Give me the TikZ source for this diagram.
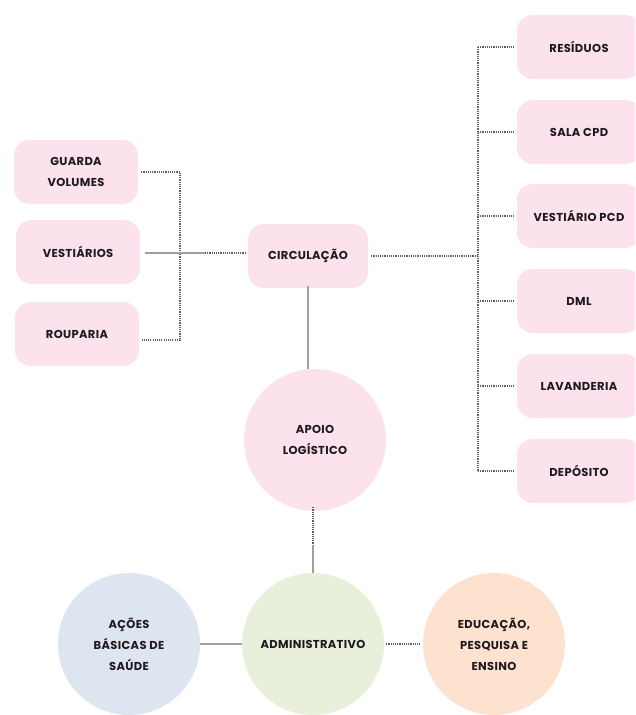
\documentclass[tikz,border=0pt]{standalone}
\usepackage{fontspec}
\setmainfont{Poppins}[LetterSpace=3]
\definecolor{pinkbox}{RGB}{251,226,237}
\definecolor{bluec}{RGB}{221,229,241}
\definecolor{greenc}{RGB}{232,240,220}
\definecolor{orangec}{RGB}{253,227,207}
\definecolor{linec}{RGB}{120,120,120}
\definecolor{txtc}{RGB}{30,25,30}
\tikzset{
  pbox/.style={rectangle, rounded corners=16pt, fill=pinkbox, minimum width=124pt, minimum height=64pt, align=center, font=\bfseries\fontsize{11.5}{21}\selectfont, text=txtc, inner sep=0pt},
  bubble/.style={circle, minimum size=142pt, align=center, font=\bfseries\fontsize{11.5}{21}\selectfont, text=txtc, inner sep=0pt},
  dotl/.style={draw=linec!80!black, line width=1.1pt, dash pattern=on 1.1pt off 1.1pt},
  solidl/.style={draw=linec!70, line width=1.2pt}
}
\begin{document}
\begin{tikzpicture}[x=1pt,y=-1pt]
\useasboundingbox (0,0) rectangle (635,715);
\clip (0,0) rectangle (635,715);
\fill[white] (0,0) rectangle (635,715);
% left boxes
\node[pbox] (gv) at (76,172) {GUARDA\\VOLUMES};
\node[pbox] (ves) at (78,252) {VESTIÁRIOS};
\node[pbox] (rou) at (77,334) {ROUPARIA};
% center
\node[pbox, minimum width=120pt] (circ) at (308,256) {CIRCULAÇÃO};
% right boxes
\node[pbox] (res) at (579,47) {RESÍDUOS};
\node[pbox] (cpd) at (579,132) {SALA CPD};
\node[pbox] (pcd) at (579,216) {VESTIÁRIO PCD};
\node[pbox] (dml) at (579,301) {DML};
\node[pbox] (lav) at (579,386) {LAVANDERIA};
\node[pbox] (dep) at (579,471) {DEPÓSITO};
% circles
\node[bubble, fill=pinkbox] (apoio) at (315,440) {APOIO\\LOGÍSTICO};
\node[bubble, fill=greenc] (adm) at (313,644) {ADMINISTRATIVO};
\node[bubble, fill=bluec] (acoes) at (129,644) {AÇÕES\\BÁSICAS DE\\SAÚDE};
\node[bubble, fill=orangec] (edu) at (494,644) {EDUCAÇÃO,\\PESQUISA E\\ENSINO};
% left connectors
\coordinate (lj) at (180,172);
\coordinate (lb) at (180,340);
\coordinate (vm) at (205,253);
\draw[dotl] ([xshift=3pt]gv.east) -- (lj) -- (lb) -- ([xshift=3pt]lb -| rou.east);
\draw[solidl] ([xshift=5pt]ves.east |- vm) -- (vm);
\draw[dotl] (vm) -- ([xshift=-3pt]circ.west |- vm);
% right connectors
\coordinate (rt) at (478,47);
\coordinate (rb) at (478,471);
\draw[dotl] (rt) -- (rb);
\draw[dotl] ([xshift=3pt]circ.east) -- (circ.east -| rt);
\foreach \n in {res,cpd,pcd,dml,lav,dep}
  \draw[dotl] (rt |- \n.west) -- ([xshift=-3pt]\n.west);
% vertical connectors
\draw[solidl] ([yshift=2pt]circ.south) -- (circ.south |- apoio.north);
\coordinate (am) at (313,545);
\draw[dotl] ([yshift=4pt]apoio.south -| am) -- (am);
\draw[solidl] (am) -- (am |- adm.north);
% bottom connectors
\draw[solidl] (acoes.east) -- (adm.west);
\draw[dotl] ([xshift=2pt]adm.east) -- ([xshift=-2pt]edu.west);
\end{tikzpicture}
\end{document}
